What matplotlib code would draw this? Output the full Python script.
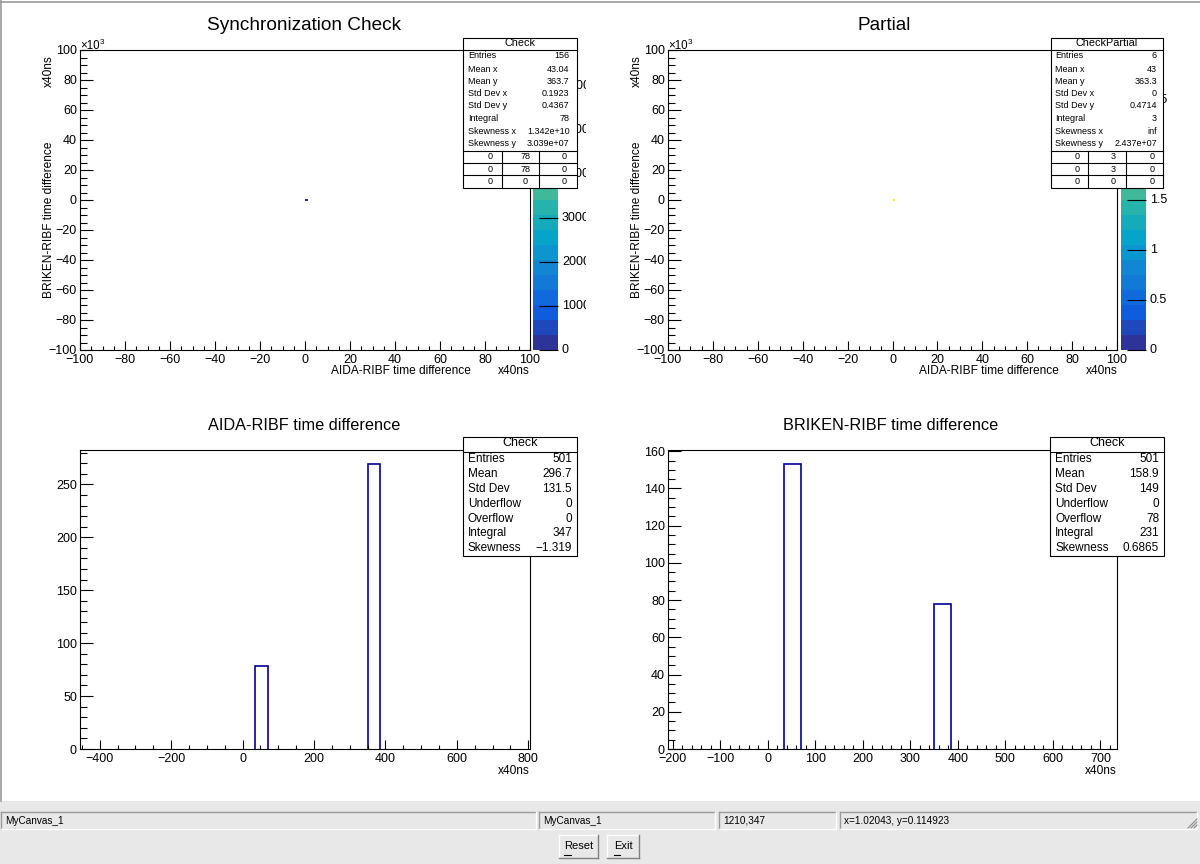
import numpy as np
import matplotlib
matplotlib.use('Agg')
import matplotlib.pyplot as plt
from matplotlib.colors import LinearSegmentedColormap, ListedColormap, BoundaryNorm
from matplotlib.patches import Rectangle
from matplotlib.ticker import MultipleLocator
from matplotlib.transforms import Bbox, TransformedBbox

W, H = 1200, 864

# ---- 2D histograms (x in x40ns, y in x10^3 x40ns) ----
sync_x_edges = [0.0, 1.2]
sync_y_edges = [-0.5, 0.5]
sync_counts = [[78]]
sync_zmax = 6820
sync_cbar_ticks = [0, 1000, 2000, 3000, 4000, 5000, 6000]
sync_cbar_labels = ['0', '1000', '2000', '3000', '4000', '5000', '6000']

partial_x_edges = [0.0, 1.3]
partial_y_edges = [-0.5, 0.5]
partial_counts = [[3]]
partial_zmax = 3.0
partial_cbar_ticks = [0, 0.5, 1, 1.5, 2, 2.5, 3]
partial_cbar_labels = ['0', '0.5', '1', '1.5', '2', '2.5', '3']

# ---- 1D histograms ----
aida_edges = [35, 70, 350, 385]
aida_counts = [78, 0, 269]
briken_edges = [35, 70, 350, 385]
briken_counts = [153, 0, 78]

# ---- stats boxes ----
stats2d_labels = ['Entries', 'Mean x', 'Mean y', 'Std Dev x', 'Std Dev y',
                  'Integral', 'Skewness x', 'Skewness y']
sync_stats = ['156', '43.04', '363.7', '0.1923', '0.4367', '78', '1.342e+10', '3.039e+07']
sync_grid = [['0', '78', '0'], ['0', '78', '0'], ['0', '0', '0']]
partial_stats = ['6', '43', '363.3', '0', '0.4714', '3', 'inf', '2.437e+07']
partial_grid = [['0', '3', '0'], ['0', '3', '0'], ['0', '0', '0']]

stats1d_labels = ['Entries', 'Mean', 'Std Dev', 'Underflow', 'Overflow', 'Integral', 'Skewness']
aida_stats = ['501', '296.7', '131.5', '0', '0', '347', '\u22121.319']
briken_stats = ['501', '158.9', '149', '0', '78', '231', '0.6865']

status_fields = ['MyCanvas_1', 'MyCanvas_1', '1210,347', 'x=1.02043, y=0.114923']

plt.rcParams['font.family'] = ['Liberation Sans', 'DejaVu Sans']

# ROOT kBird palette, 20 contour levels
bird_stops = [0.0, 0.125, 0.25, 0.375, 0.5, 0.625, 0.75, 0.875, 1.0]
bird_r = [0.2082, 0.0592, 0.0780, 0.0232, 0.1802, 0.5301, 0.8186, 0.9956, 0.9764]
bird_g = [0.1664, 0.3599, 0.5041, 0.6419, 0.7178, 0.7492, 0.7328, 0.7862, 0.9832]
bird_b = [0.5293, 0.8684, 0.8385, 0.7914, 0.6425, 0.4662, 0.3499, 0.1968, 0.0539]
bird = LinearSegmentedColormap.from_list(
    'bird', [(s, (r, g, b)) for s, r, g, b in zip(bird_stops, bird_r, bird_g, bird_b)])
ncont = 20
cmap = ListedColormap([bird((i + 0.5) / ncont) for i in range(ncont)])

LINE = '#000099'


def fr(x0, y0, x1, y1):
    return [x0 / W, 1 - y1 / H, (x1 - x0) / W, (y1 - y0) / H]


fig = plt.figure(figsize=(12, 8.64), dpi=100, facecolor='#e8e8e8')

# background: canvas, window bits, titles
bg = fig.add_axes([0, 0, 1, 1], zorder=0)
bg.set_xlim(0, W)
bg.set_ylim(H, 0)
bg.axis('off')
bg.add_patch(Rectangle((0, 0), W, 801, fc='white', ec='none'))
bg.plot([0.5, 0.5], [0, 801], color='#9a9a9a', lw=1.2)
bg.plot([0, W], [1.5, 1.5], color='#9a9a9a', lw=1.2)


def frame_axes(px, xlim, ylim, xmaj, xmin, ymaj, ymin):
    ax = fig.add_axes(fr(*px), zorder=2)
    ax.set_xlim(xlim)
    ax.set_ylim(ylim)
    ax.xaxis.set_major_locator(MultipleLocator(xmaj))
    ax.xaxis.set_minor_locator(MultipleLocator(xmin))
    ax.yaxis.set_major_locator(MultipleLocator(ymaj))
    ax.yaxis.set_minor_locator(MultipleLocator(ymin))
    ax.tick_params(which='both', direction='in', top=False, right=False,
                   labelsize=9, width=0.8, colors='black')
    ax.tick_params(axis='x', which='major', length=6.5, pad=3)
    ax.tick_params(axis='x', which='minor', length=3.2)
    ax.tick_params(axis='y', which='major', length=9.7, pad=2.2)
    ax.tick_params(axis='y', which='minor', length=4.9)
    for s in ax.spines.values():
        s.set_linewidth(0.8)
        s.set_zorder(3)
    return ax


def hist_outline(ax, counts, edges):
    # ROOT-style open bars; empty bins sit on the frame and are not drawn
    for i, c in enumerate(counts):
        if c > 0:
            ax.stairs([c], edges[i:i + 2], color=LINE, linewidth=1.2)


def color_axis(mesh, px, ticks, labels, clip_x):
    cax = fig.add_axes(fr(*px), zorder=3)
    cb = fig.colorbar(mesh, cax=cax)
    cb.outline.set_visible(False)
    cb.minorticks_off()
    cb.set_ticks(ticks)
    cax.yaxis.set_ticks_position('right')
    cax.tick_params(direction='in', length=14, width=0.8, labelright=False)
    clip = TransformedBbox(Bbox.from_extents(0, 0, clip_x / W, 1), fig.transFigure)
    for v, lab in zip(ticks, labels):
        t = cax.text(1.16, v, lab, transform=cax.get_yaxis_transform(),
                     ha='left', va='center', fontsize=9)
        t.set_clip_path(None)
        t.set_clip_box(clip)
        t.set_clip_on(True)
    return cax


# === top left: Synchronization Check ===
ax1 = frame_axes((80, 50, 530, 350), (-100, 100), (-100, 100), 20, 5, 20, 5)
norm1 = BoundaryNorm(np.linspace(0, sync_zmax, ncont + 1), ncont)
m1 = ax1.pcolormesh(sync_x_edges, sync_y_edges, np.array(sync_counts),
                    cmap=cmap, norm=norm1, antialiased=False)
color_axis(m1, (533, 50, 558, 350), sync_cbar_ticks, sync_cbar_labels, 586)

# === top right: Partial ===
ax2 = frame_axes((668, 50, 1117, 350), (-100, 100), (-100, 100), 20, 5, 20, 5)
norm2 = BoundaryNorm(np.linspace(0, partial_zmax, ncont + 1), ncont)
m2 = ax2.pcolormesh(partial_x_edges, partial_y_edges, np.array(partial_counts),
                    cmap=cmap, norm=norm2, antialiased=False)
color_axis(m2, (1121, 50, 1146, 350), partial_cbar_ticks, partial_cbar_labels, 1184)

# === bottom left: AIDA-RIBF ===
ax3 = frame_axes((80, 450, 530, 749), (-455, 805), (0, max(aida_counts) * 1.05),
                 200, 50, 50, 10)
hist_outline(ax3, aida_counts, aida_edges)

# === bottom right: BRIKEN-RIBF ===
ax4 = frame_axes((668, 450, 1117, 749), (-210, 735), (0, max(briken_counts) * 1.05),
                 100, 20, 20, 5)
hist_outline(ax4, briken_counts, briken_edges)

# titles and axis titles
bg.text(304, 25, 'Synchronization Check', ha='center', va='center', fontsize=13.7)
bg.text(884, 25, 'Partial', ha='center', va='center', fontsize=13.7)
bg.text(304, 425, 'AIDA-RIBF time difference', ha='center', va='center', fontsize=11.7)
bg.text(891, 425, 'BRIKEN-RIBF time difference', ha='center', va='center', fontsize=11.7)

for dx in (0, 588):
    bg.text(471 + dx, 371, 'AIDA-RIBF time difference', ha='right', va='center', fontsize=8.6)
    bg.text(530 + dx, 371, 'x40ns', ha='right', va='center', fontsize=8.6)
    bg.text(49 + dx, 220, 'BRIKEN-RIBF time difference', rotation=90,
            ha='center', va='center', fontsize=8.6)
    bg.text(49 + dx, 71, 'x40ns', rotation=90, ha='center', va='center', fontsize=8.6)
    bg.text(80 + dx, 49, '\u00d710', ha='left', va='baseline', fontsize=8.3)
    bg.text(99.5 + dx, 44.5, '3', ha='left', va='baseline', fontsize=5.8)
bg.text(530, 771, 'x40ns', ha='right', va='center', fontsize=8.6)
bg.text(1117, 771, 'x40ns', ha='right', va='center', fontsize=8.6)

# ---- status bar and buttons ----
bg.add_patch(Rectangle((0, 801), W, 63, fc='#e8e8e8', ec='none'))


def sunken(x0, y0, x1, y1):
    bg.plot([x0, x1], [y0, y0], color='#9a9a9a', lw=1)
    bg.plot([x0, x0], [y0, y1], color='#9a9a9a', lw=1)
    bg.plot([x0, x1], [y1, y1], color='white', lw=1)
    bg.plot([x1, x1], [y0, y1], color='white', lw=1)


def raised(x0, y0, x1, y1):
    bg.plot([x0, x1], [y0, y0], color='white', lw=1)
    bg.plot([x0, x0], [y0, y1], color='white', lw=1)
    bg.plot([x0, x1], [y1, y1], color='#808080', lw=1)
    bg.plot([x1, x1], [y0, y1], color='#808080', lw=1)


field_x = [(1, 536), (539, 715), (719, 836), (840, 1197)]
for (x0, x1), txt in zip(field_x, status_fields):
    sunken(x0, 812, x1, 829)
    bg.text(x0 + 4, 820.5, txt, ha='left', va='center', fontsize=7.2)
for k in (3, 6, 9):
    bg.plot([1197, 1197 - k], [828 - k, 828], color='#8a8a8a', lw=0.8)

raised(558.5, 835, 598, 857.5)
raised(607, 835, 639, 857.5)
bg.text(579, 846, 'Reset', ha='center', va='center', fontsize=8)
bg.text(623, 846, 'Exit', ha='center', va='center', fontsize=8)
bg.plot([564, 571], [854.5, 854.5], color='black', lw=0.8)
bg.plot([613.5, 619.5], [854.5, 854.5], color='black', lw=0.8)

# ---- stats boxes (on top of everything) ----
ov = fig.add_axes([0, 0, 1, 1], zorder=10)
ov.set_xlim(0, W)
ov.set_ylim(H, 0)
ov.axis('off')
ov.patch.set_alpha(0)


def stats2d(x0, x1, title, values, grid, lab_x, val_x, cols, cell_x):
    y0, y1 = 37.5, 187.5
    ov.add_patch(Rectangle((x0, y0), x1 - x0, y1 - y0, fc='white', ec='black', lw=0.8))
    ov.plot([x0, x1], [49.5, 49.5], color='black', lw=0.8)
    ov.text((x0 + x1) / 2, 43.5, title, ha='center', va='center', fontsize=7.8)
    row_y = [56, 69, 81.3, 93.3, 106, 118.3, 131, 143.3]
    for y, lab, val in zip(row_y, stats2d_labels, values):
        ov.text(lab_x, y, lab, ha='left', va='center', fontsize=6.5)
        ov.text(val_x, y, val, ha='right', va='center', fontsize=6.5)
    for y in (150.7, 162.8, 175.2):
        ov.plot([x0, x1], [y, y], color='black', lw=0.8)
    for c in cols:
        ov.plot([c, c], [150.7, y1], color='black', lw=0.8)
    for y, row in zip((156.8, 169, 181.3), grid):
        for cx, v in zip(cell_x, row):
            ov.text(cx, y, v, ha='center', va='center', fontsize=6.5)


def stats1d(x0, x1, values, lab_x, val_x):
    y0, y1 = 436.5, 556
    ov.add_patch(Rectangle((x0, y0), x1 - x0, y1 - y0, fc='white', ec='black', lw=0.8))
    ov.plot([x0, x1], [451.5, 451.5], color='black', lw=0.8)
    ov.text((x0 + x1) / 2, 443.5, 'Check', ha='center', va='center', fontsize=9)
    row_y = [459, 473.7, 489, 504, 518.7, 533, 548.3]
    for y, lab, val in zip(row_y, stats1d_labels, values):
        ov.text(lab_x, y, lab, ha='left', va='center', fontsize=8.5)
        ov.text(val_x, y, val, ha='right', va='center', fontsize=8.5)


stats2d(463.3, 576.7, 'Check', sync_stats, sync_grid, 468, 569.5,
        (501.7, 539), (490, 525.5, 564.5))
stats2d(1050.7, 1163.3, 'CheckPartial', partial_stats, partial_grid, 1055, 1157,
        (1088.3, 1125.7), (1077, 1113.5, 1152))
stats1d(463, 577, aida_stats, 468, 572)
stats1d(1050, 1164, briken_stats, 1055, 1159)

fig.savefig('out.png', dpi=100, facecolor=fig.get_facecolor())
